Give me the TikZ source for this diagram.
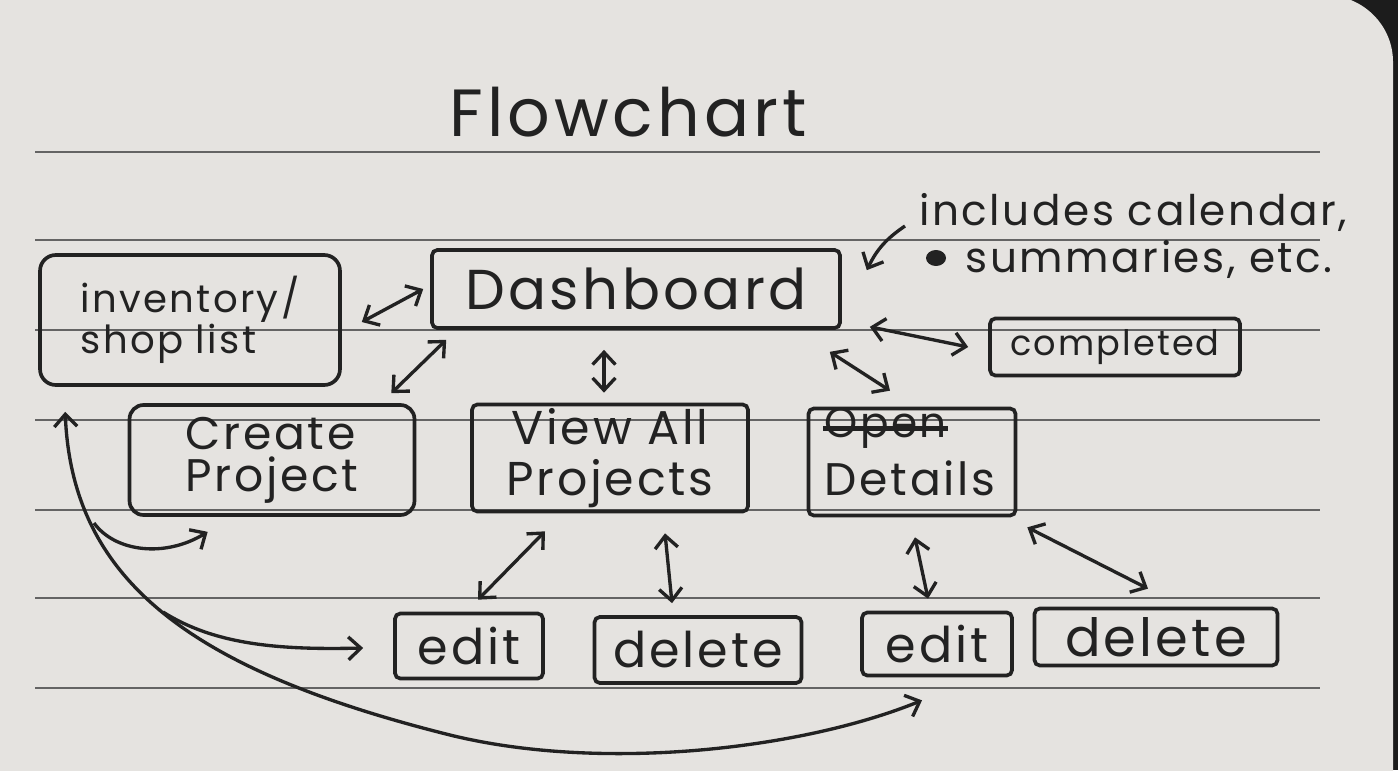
\documentclass[tikz,border=0pt]{standalone}
\usepackage{fontspec}
\newfontfamily\hand[LetterSpace=6]{Poppins}
\usetikzlibrary{arrows.meta, positioning}
\definecolor{papercol}{RGB}{229,227,224}
\definecolor{deskcol}{RGB}{28,28,28}
\definecolor{inkcol}{RGB}{34,34,34}
\definecolor{linecol}{RGB}{100,100,100}
\newcommand{\handsz}[2]{\hand\fontsize{#1}{#2}\selectfont}
\tikzset{
  hb/.tip={Straight Barb[length=7pt,width=13pt]},
  box/.style={draw=inkcol, line width=2.1pt, rounded corners=3pt, inner sep=0pt, text=inkcol},
  txt/.style={text=inkcol, inner sep=0pt},
  dbl/.style={draw=inkcol, line width=1.9pt, hb-hb},
  sgl/.style={draw=inkcol, line width=1.9pt, -hb},
  ruled/.style={draw=linecol, line width=0.8pt}
}

\begin{document}
\begin{tikzpicture}[x=0.02cm, y=-0.02cm, line width=1.6pt]
  \useasboundingbox (0,0) rectangle (1398,770);
  \fill[deskcol] (0,0) rectangle (1398,770);
  \fill[papercol] (-5,-5) -- (1325,-5) to[out=0,in=90] (1393,62) -- (1393,775) -- (-5,775) -- cycle;
  \foreach \y in {152,240,330,420,510,598,688}
    \draw[ruled] (35,\y) -- (1320,\y);

  \node[txt, font=\handsz{38pt}{42pt}] (ttl) at (628,112) {Flowchart};
  \node[txt, align=left, anchor=west, font=\handsz{24pt}{27pt}] (note) at (918,236) {includes calendar,\\\hspace{1.1em}summaries, etc.};
  \fill[inkcol] ([shift={(18,22)}]note.west) ellipse (0.2cm and 0.16cm);

  \node[box, minimum width=8.16cm, minimum height=1.56cm, font=\handsz{32pt}{36pt}] (dash) at (636,289) {Dashboard};
  \node[box, rounded corners=9pt, minimum width=6cm, minimum height=2.6cm, align=left, font=\handsz{22pt}{19pt}] (inv) at (190,320) {inventory/\\shop list};
  \node[box, rounded corners=8pt, minimum width=5.7cm, minimum height=2.2cm, align=left, font=\handsz{26pt}{24pt}] (create) at (272,460) {Create\\Project};
  \node[box, minimum width=5.52cm, minimum height=2.14cm, align=center, font=\handsz{27pt}{29pt}] (view) at (610,458) {View All\\Projects};
  \node[box, minimum width=4.14cm, minimum height=2.14cm] (det) at (912,462) {};
  \node[txt, font=\handsz{26pt}{28pt}] (detl) at (910,478) {Details};
  \node[txt, font=\handsz{24pt}{26pt}, above right=5pt and 0pt of detl.north west] (opn) {Open};
  \draw[draw=inkcol, line width=2.8pt] (opn.west) -- (opn.east);
  \node[box, minimum width=5cm, minimum height=1.14cm, font=\handsz{20pt}{24pt}] (comp) at (1115,347) {completed};

  \node[box, minimum width=2.96cm, minimum height=1.3cm, font=\handsz{28pt}{30pt}] (editA) at (469,646) {edit};
  \node[box, minimum width=4.14cm, minimum height=1.32cm, font=\handsz{28pt}{30pt}] (delA) at (698,650) {delete};
  \node[box, minimum width=3cm, minimum height=1.26cm, font=\handsz{28pt}{30pt}] (editB) at (937,644) {edit};
  \node[box, minimum width=4.86cm, minimum height=1.14cm, font=\handsz{30pt}{32pt}] (delB) at (1156,637) {delete};

  \draw[sgl] ([shift={(-13,-10)}]note.west) to[bend right=15] ([shift={(25,22)}]dash.north east);

  \draw[dbl] ([shift={(20,2)}]inv.east) -- ([shift={(-7,0)}]dash.west);
  \draw[dbl] ([shift={(-25,-10)}]create.north east) -- ([shift={(16,10)}]dash.south west);
  \draw[dbl] ([shift={(-32,20)}]dash.south) -- ([shift={(-6,-10)}]view.north);
  \draw[dbl] ([shift={(-12,22)}]dash.south east) -- ([shift={(-22,-16)}]det.north);
  \draw[dbl] ([shift={(28,-3)}]dash.south east) -- ([shift={(-20,0)}]comp.west);
  \draw[dbl] ([shift={(-65,18)}]view.south) -- ([shift={(9,-12)}]editA.north);
  \draw[dbl] ([shift={(55,20)}]view.south) -- ([shift={(-26,-12)}]delA.north);
  \draw[dbl] ([shift={(3,20)}]det.south) -- ([shift={(-9,-12)}]editB.north);
  \draw[dbl] ([shift={(10,10)}]det.south east) -- ([shift={(-8,-18)}]delB.north);

  \coordinate (loopTop) at ([shift={(27,25)}]inv.south west);
  \coordinate (editTip) at ([shift={(-15,23)}]editB.south);
  \coordinate (brA) at (94,523);
  \coordinate (brB) at (163,612);
  \draw[dbl] (loopTop) .. controls (72,580) and (190,670) .. (450,735)
    .. controls (600,772) and (800,750) .. (editTip);
  \draw[sgl] (brA) .. controls (115,552) and (165,558) .. ([shift={(80,15)}]create.south west);
  \draw[sgl] (brB) .. controls (215,645) and (280,650) .. ([shift={(-30,2)}]editA.west);
\end{tikzpicture}
\end{document}
